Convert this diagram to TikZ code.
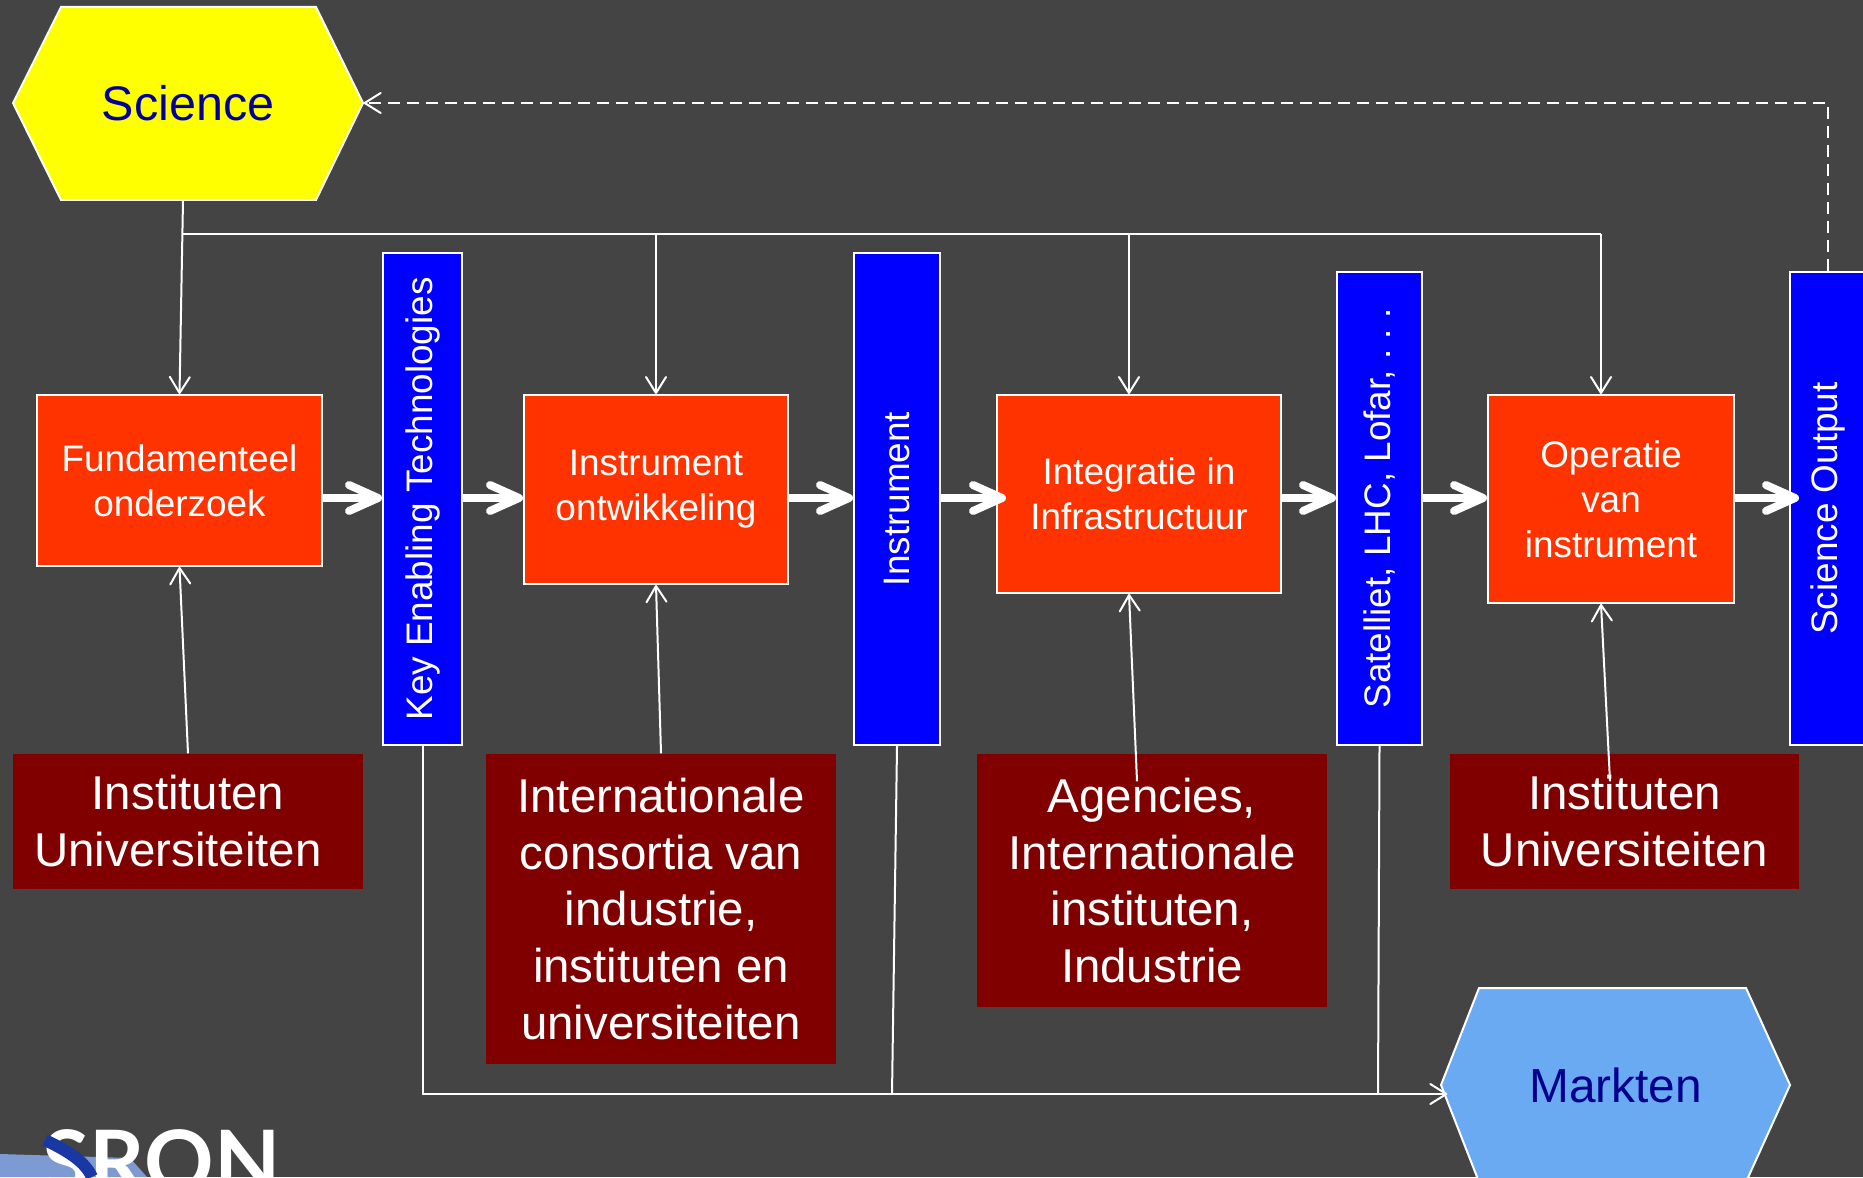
\documentclass[tikz,border=0pt]{standalone}
\usepackage{fontspec}
\setmainfont{Liberation Sans}
\newfontfamily\logofont{Lato}
\usepackage{graphicx}
\usetikzlibrary{arrows.meta}

\definecolor{slidegray}{RGB}{68,68,68}
\definecolor{steporange}{RGB}{255,51,0}
\definecolor{barblue}{RGB}{0,0,255}
\definecolor{partnerred}{RGB}{128,0,0}
\definecolor{sciyellow}{RGB}{255,255,0}
\definecolor{scinavy}{RGB}{0,0,153}
\definecolor{marketblue}{RGB}{106,170,242}
\definecolor{marketnavy}{RGB}{0,0,140}
\definecolor{logolight}{RGB}{125,155,210}
\definecolor{logodark}{RGB}{25,55,165}

\begin{document}
\begin{tikzpicture}[
    stepbox/.style={draw=white, line width=0.02cm, fill=steporange, text=white,
      align=center, inner sep=0pt, font=\fontsize{10.5}{12.8}\selectfont},
    barbox/.style={draw=white, line width=0.02cm, fill=barblue, text=white,
      inner sep=0pt, font=\fontsize{10.5}{12.8}\selectfont},
    partnerbox/.style={fill=partnerred, text=white, align=center, inner sep=0pt,
      font=\fontsize{13.5}{16.2}\selectfont},
    hexlabel/.style={inner sep=0pt},
    hexline/.style={draw=white, line width=0.02cm},
    thinline/.style={white, line width=0.02cm},
    thinarrow/.style={thinline, -{Straight Barb[length=1.6mm,width=2mm,round]}},
    flowarrow/.style={white, line width=0.08cm, -{Straight Barb[length=2.9mm,width=2.6mm,round]}},
  ]
  \useasboundingbox (0,0) rectangle (18.63,11.77);
  \clip (0,0) rectangle (18.63,11.77);
  \fill[slidegray] (0,0) rectangle (18.63,11.77);

  % Drawing hexagon Science
  \fill[sciyellow, hexline] (0.130,10.740) -- (0.610,11.700) -- (3.160,11.700) -- (3.630,10.740) -- (3.160,9.770) -- (0.610,9.770) -- cycle;%
  \node[hexlabel, minimum width=3.50cm, minimum height=1.93cm, text=scinavy,
    font=\fontsize{13.8}{16}\selectfont] (sci) at (1.880,10.740) {Science};%

  % Drawing hexagon Markten
  \fill[marketblue, hexline] (14.410,0.920) -- (14.790,1.890) -- (17.460,1.890) -- (17.900,0.920) -- (17.460,-0.050) -- (14.790,-0.050) -- cycle;%
  \node[hexlabel, minimum width=3.49cm, minimum height=1.94cm, text=marketnavy,
    font=\fontsize{13.6}{16}\selectfont] (markt) at (16.155,0.920) {Markten};%

  % Drawing the steps
  \node[stepbox, minimum width=2.85cm, minimum height=1.71cm] (fund) at (1.795,6.965) {Fundamenteel\\onderzoek};%
  \node[stepbox, minimum width=2.64cm, minimum height=1.89cm] (instr) at (6.560,6.875) {Instrument\\ontwikkeling};%
  \node[stepbox, minimum width=2.84cm, minimum height=1.98cm] (integr) at (11.390,6.830) {Integratie in\\Infrastructuur};%
  \node[stepbox, minimum width=2.46cm, minimum height=2.08cm] (oper) at (16.110,6.780) {Operatie\\van\\instrument};%

  % Drawing the bars
  \node[barbox, minimum width=0.79cm, minimum height=4.92cm] (ket) at (4.225,6.780) {\rotatebox{90}{Key Enabling Technologies}};%
  \node[barbox, minimum width=0.86cm, minimum height=4.92cm] (instrbar) at (8.970,6.780) {\rotatebox{90}{Instrument}};%
  \node[barbox, minimum width=0.85cm, minimum height=4.73cm] (sat) at (13.795,6.685) {\rotatebox{90}{Satelliet, LHC, Lofar, .~.~.}};%
  \node[barbox, minimum width=0.76cm, minimum height=4.73cm] (sciout) at (18.280,6.685) {\rotatebox{90}{Science Output}};%

  % Drawing the partners
  \node[partnerbox, minimum width=3.50cm, minimum height=1.35cm] (inst1) at (1.880,3.555) {Instituten\\Universiteiten\hspace*{2mm}};%
  \node[partnerbox, minimum width=3.50cm, minimum height=3.10cm] (cons) at (6.610,2.680) {Internationale\\consortia van\\industrie,\\instituten en\\universiteiten};%
  \node[partnerbox, minimum width=3.50cm, minimum height=2.53cm] (agen) at (11.520,2.965) {Agencies,\\Internationale\\instituten,\\Industrie};%
  \node[partnerbox, minimum width=3.49cm, minimum height=1.35cm] (inst2) at (16.245,3.555) {Instituten\\Universiteiten};%

  % Drawing the flow
  \coordinate (mid) at (0,6.790);
  \draw[flowarrow] (fund.east |- mid) -- (ket.west |- mid);%
  \draw[flowarrow] (ket.east |- mid) -- (instr.west |- mid);%
  \draw[flowarrow] (instr.east |- mid) -- (instrbar.west |- mid);%
  \draw[flowarrow] (instrbar.east |- mid) -- ([xshift=1mm]integr.west |- mid);%
  \draw[flowarrow] (integr.east |- mid) -- (sat.west |- mid);%
  \draw[flowarrow] (sat.east |- mid) -- (oper.west |- mid);%
  \draw[flowarrow] (oper.east |- mid) -- ([xshift=1mm]sciout.west |- mid);%

  % Drawing segments from Science
  \coordinate (topL) at (1.830,9.430);
  \coordinate (topB) at (6.560,9.430);
  \coordinate (topC) at (11.290,9.430);
  \coordinate (topR) at (16.010,9.430);
  \draw[thinarrow] ([xshift=-0.5mm]sci.south) -- (fund.north);%
  \draw[thinline] (topL) -- (topR);%
  \draw[thinarrow] (topB) -- (instr.north);%
  \draw[thinarrow] (topC) -- (topC |- integr.north);%
  \draw[thinarrow] (topR) -- (topR |- oper.north);%

  % Drawing segments from the partners
  \draw[thinarrow] (inst1.north) -- (fund.south);%
  \draw[thinarrow] (cons.north) -- (instr.south);%
  \draw[thinarrow] ([xshift=-1.5mm,yshift=-2.8mm]agen.north) -- ([xshift=-1mm]integr.south);%
  \draw[thinarrow] ([xshift=-1.45mm,yshift=-2.8mm]inst2.north) -- ([xshift=-1mm]oper.south);%

  % Drawing segments to Markten
  \coordinate (busA) at (8.920,0.830);
  \coordinate (busB) at (13.780,0.830);
  \draw[thinarrow] (ket.south) |- ([xshift=0.7mm,yshift=-0.9mm]markt.west);%
  \draw[thinline] (instrbar.south) -- (busA);%
  \draw[thinline] (sat.south) -- (busB);%

  % Drawing the feedback to Science
  \draw[thinarrow, dash pattern=on 1.2mm off 0.7mm] (sciout.north) |- (sci.east);%

  % Drawing the logo
  \fill[logolight] (0,0.230) -- (1.300,0.190) -- (1.470,0) -- (0,0) -- cycle;%
  \node[anchor=base west, inner sep=0pt, text=white,
    font=\logofont\bfseries\fontsize{24.5}{26}\selectfont] (logo) at (0.420,-0.150) {SRON};%
  \draw[logodark, line width=0.12cm] (0.450,0.370) .. controls (0.700,0.250) and (0.850,0.150) .. (0.920,0);%
\end{tikzpicture}
\end{document}
